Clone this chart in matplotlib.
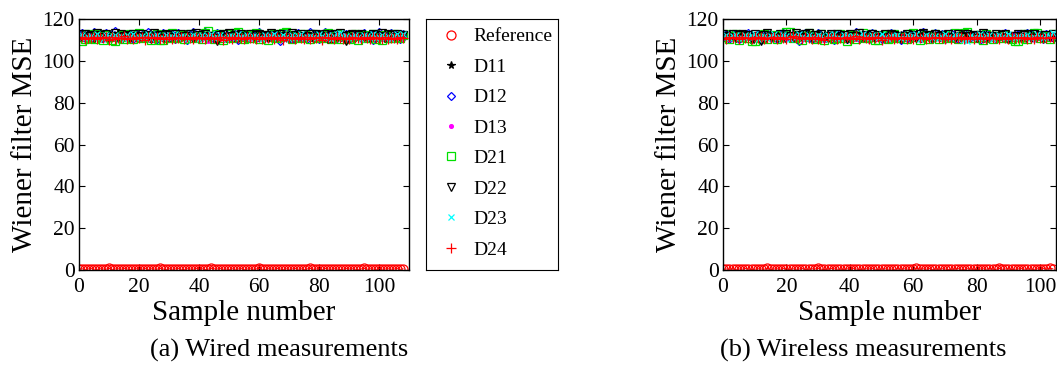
import matplotlib
matplotlib.use("Agg")
import matplotlib.pyplot as plt
import numpy as np

plt.rcParams['font.family'] = ['Liberation Serif', 'DejaVu Serif']

# ---- (a) wired measurements ----
wired_ref = [0.4, 0.6, 0.3, 0.5, 0.7, 0.4, 0.3, 0.6, 0.5, 0.4, 0.8, 0.3, 0.5, 0.6, 0.4, 0.7, 0.5, 0.3, 0.4, 0.6, 0.5, 0.4, 0.7, 0.3, 0.6, 0.5, 0.4, 0.8, 0.5, 0.3, 0.6, 0.4, 0.5, 0.7, 0.4, 0.3, 0.6, 0.5, 0.4, 0.7, 0.5, 0.6, 0.3, 0.4, 0.8, 0.6, 0.5, 0.7, 0.4, 0.5, 0.3, 0.6, 0.4, 0.5, 0.7, 0.3, 0.5, 0.6, 0.4, 0.5, 0.8, 0.4, 0.3, 0.6, 0.5, 0.4, 0.7, 0.5, 0.3, 0.6, 0.4, 0.5, 0.7, 0.4, 0.6, 0.3, 0.5, 0.8, 0.4, 0.5, 0.6, 0.3, 0.7, 0.5, 0.4, 0.6, 0.5, 0.3, 0.4, 0.7, 0.5, 0.6, 0.4, 0.3, 0.5, 0.8, 0.4, 0.6, 0.5, 0.3, 0.7, 0.4, 0.5, 0.6, 0.4, 0.5, 0.7, 0.3, 0.6]
wired_d11 = [111.8, 110.9, 112.4, 111.2, 110.5, 112.9, 111.6, 110.2, 112.1, 111.4, 113.0, 110.7, 111.9, 112.6, 110.4, 111.3, 112.2, 110.8, 111.7, 112.5, 110.6, 111.1, 112.8, 111.5, 110.3, 112.0, 111.8, 110.9, 112.3, 111.0, 110.6, 112.7, 111.4, 110.8, 112.1, 111.6, 110.2, 111.9, 112.4, 111.2, 110.7, 112.6, 111.3, 110.5, 112.0, 111.7, 109.8, 111.5, 112.2, 110.9, 111.4, 112.8, 110.6, 111.8, 112.3, 111.0, 110.4, 112.5, 111.6, 110.8, 112.1, 111.3, 110.7, 112.7, 111.2, 110.5, 111.9, 112.4, 110.9, 111.5, 112.0, 110.3, 111.7, 112.6, 111.1, 110.6, 112.2, 111.4, 110.8, 112.9, 111.6, 110.2, 111.8, 112.3, 109.9, 111.0, 112.5, 111.3, 110.7, 112.1, 111.9, 110.4, 111.5, 112.8, 111.2, 110.9, 112.0, 111.7, 110.5, 112.4, 111.1, 110.8, 112.6, 111.4, 110.6, 112.2, 111.8, 110.3, 111.5]
wired_d12 = [112.3, 113.5, 111.0, 112.8, 110.4, 113.9, 111.7, 112.5, 110.9, 113.2, 111.4, 112.0, 114.1, 110.8, 111.9, 113.0, 111.2, 112.6, 110.5, 113.4, 111.8, 112.2, 110.7, 113.7, 111.5, 112.9, 110.2, 112.4, 113.1, 111.0, 111.6, 112.7, 110.6, 113.3, 111.9, 112.1, 109.8, 112.8, 113.6, 111.3, 110.9, 112.5, 113.8, 111.1, 112.0, 110.4, 113.2, 111.7, 112.3, 110.8, 113.5, 111.4, 112.6, 110.1, 112.9, 113.0, 111.2, 111.8, 112.4, 110.7, 113.6, 111.5, 112.2, 110.9, 113.1, 111.0, 112.7, 109.7, 112.0, 113.4, 111.6, 110.5, 112.8, 113.2, 111.3, 112.1, 110.6, 113.7, 111.8, 112.5, 110.3, 112.9, 114.0, 111.1, 111.7, 112.3, 110.8, 113.5, 111.4, 112.6, 110.2, 113.0, 111.9, 112.2, 110.7, 113.3, 111.2, 112.8, 109.9, 112.4, 113.8, 111.5, 110.9, 112.0, 113.1, 111.6, 112.7, 110.5, 112.9]
wired_d13 = [111.2, 110.6, 111.8, 110.9, 111.5, 110.3, 112.0, 111.1, 110.7, 111.9, 110.4, 111.6, 111.0, 110.8, 112.2, 111.3, 110.5, 111.7, 110.9, 111.4, 110.2, 112.1, 111.0, 110.6, 111.8, 111.2, 110.4, 111.5, 110.8, 112.3, 111.1, 110.7, 111.6, 110.3, 111.9, 111.0, 110.5, 112.0, 111.3, 110.9, 111.7, 110.6, 111.2, 109.4, 111.8, 110.8, 111.4, 110.2, 112.1, 111.0, 110.7, 111.6, 111.3, 110.4, 111.9, 110.9, 111.2, 110.5, 111.7, 112.2, 110.8, 111.1, 110.3, 111.8, 111.4, 110.6, 112.0, 110.9, 111.5, 110.2, 111.3, 111.7, 110.7, 111.0, 112.1, 110.4, 111.6, 110.8, 111.2, 109.8, 111.9, 110.6, 111.4, 111.1, 110.3, 111.8, 110.9, 111.5, 112.3, 110.7, 111.0, 110.5, 111.7, 111.2, 110.8, 112.0, 110.4, 111.3, 111.6, 110.9, 111.1, 110.2, 111.8, 111.4, 110.6, 111.9, 110.7, 111.2, 110.5]
wired_d21 = [111.5, 109.6, 110.4, 112.8, 111.1, 110.2, 113.0, 111.7, 110.0, 112.3, 111.2, 109.8, 109.7, 111.9, 112.5, 110.6, 111.4, 112.9, 110.3, 111.8, 113.1, 110.8, 111.3, 112.0, 110.1, 111.6, 112.7, 109.9, 109.8, 112.2, 111.0, 113.2, 110.7, 111.5, 112.4, 110.2, 111.9, 112.8, 110.9, 111.3, 112.1, 110.5, 113.5, 114.2, 111.7, 110.4, 112.6, 111.1, 110.0, 112.9, 111.4, 110.8, 113.3, 114.0, 111.6, 110.3, 112.2, 111.0, 112.7, 113.4, 110.6, 111.8, 112.4, 110.1, 111.3, 112.9, 110.7, 111.5, 113.1, 114.0, 111.9, 110.4, 112.3, 111.2, 110.9, 112.6, 111.7, 110.2, 113.0, 111.4, 110.8, 112.5, 111.1, 113.2, 110.5, 111.6, 112.8, 110.3, 111.9, 112.1, 110.6, 111.3, 112.7, 110.0, 111.8, 112.4, 110.9, 111.2, 113.0, 110.4, 111.7, 109.9, 112.2, 111.0, 110.7, 112.9, 111.5, 110.8, 112.3]
wired_d22 = [112.6, 111.3, 112.9, 111.8, 112.2, 110.9, 113.1, 112.4, 111.6, 112.8, 110.7, 112.0, 113.3, 111.5, 112.7, 111.9, 112.3, 110.8, 113.0, 112.1, 111.4, 112.9, 111.7, 112.5, 110.6, 113.2, 111.9, 112.2, 111.1, 112.8, 112.4, 111.6, 113.0, 111.3, 112.7, 112.0, 111.8, 112.6, 110.9, 113.1, 112.3, 111.5, 112.9, 111.7, 112.1, 111.0, 109.3, 112.5, 112.8, 111.4, 113.2, 111.9, 112.3, 110.8, 112.7, 112.0, 111.6, 113.0, 111.2, 112.4, 112.9, 111.8, 112.2, 110.7, 113.1, 112.5, 111.3, 112.6, 111.9, 112.1, 110.9, 113.3, 112.4, 111.7, 112.8, 111.5, 112.0, 113.0, 111.1, 112.6, 112.3, 111.8, 112.9, 110.6, 112.2, 112.7, 111.4, 113.1, 111.9, 109.5, 112.5, 112.8, 111.2, 112.4, 113.0, 111.6, 112.1, 110.8, 112.9, 112.3, 111.7, 113.2, 111.0, 112.6, 112.2, 111.5, 112.8, 111.9, 112.4]
wired_d23 = [111.9, 112.4, 110.8, 111.6, 112.1, 111.0, 112.7, 111.3, 110.6, 112.3, 111.8, 110.9, 112.5, 111.2, 111.7, 110.5, 112.2, 111.4, 112.8, 110.7, 111.5, 112.0, 111.1, 112.6, 110.4, 111.9, 112.3, 111.0, 110.8, 112.4, 111.6, 111.2, 112.7, 110.9, 111.8, 112.1, 110.6, 111.4, 112.5, 111.7, 110.3, 112.2, 111.0, 111.9, 112.8, 110.8, 111.3, 112.4, 111.6, 110.5, 112.0, 111.8, 110.9, 112.6, 111.2, 111.5, 112.3, 110.7, 111.9, 112.1, 111.0, 110.6, 112.5, 111.4, 111.8, 112.7, 110.8, 111.3, 112.2, 111.6, 110.4, 112.4, 111.1, 111.9, 112.8, 110.9, 111.5, 112.0, 111.2, 110.7, 112.6, 111.7, 111.0, 112.3, 110.5, 111.8, 112.9, 113.2, 111.4, 112.1, 110.8, 111.6, 112.5, 111.3, 110.6, 112.2, 111.9, 111.0, 112.7, 110.9, 111.5, 112.4, 111.1, 111.8, 110.4, 112.0, 112.6, 111.3, 112.9]
wired_d24 = [110.9, 111.4, 110.2, 111.0, 110.7, 111.6, 110.4, 111.2, 110.8, 111.5, 110.1, 111.3, 110.6, 111.1, 110.9, 111.7, 110.3, 111.0, 110.5, 111.4, 110.8, 111.2, 110.0, 111.6, 110.7, 110.9, 111.3, 110.4, 111.1, 110.6, 111.5, 110.2, 111.0, 110.8, 111.4, 110.5, 111.2, 110.9, 110.3, 111.6, 110.7, 111.1, 110.4, 111.3, 110.8, 111.0, 110.6, 111.5, 110.1, 111.2, 110.9, 110.5, 111.4, 110.7, 111.0, 110.3, 111.6, 110.8, 111.1, 110.6, 111.3, 110.2, 111.0, 110.9, 111.5, 110.4, 111.2, 110.7, 110.1, 111.4, 110.8, 111.0, 110.5, 111.3, 110.9, 110.3, 111.6, 110.6, 111.1, 110.8, 111.2, 110.0, 111.5, 110.7, 111.0, 110.4, 111.3, 110.9, 110.6, 111.1, 110.2, 111.4, 110.8, 111.0, 110.5, 111.2, 110.7, 110.3, 111.5, 110.9, 111.1, 110.6, 111.3, 110.4, 111.0, 110.8, 110.5, 111.2, 110.7]

# ---- (b) wireless measurements ----
wireless_ref = [0.3, 0.5, 0.4, 0.6, 0.3, 0.5, 0.4, 0.7, 0.5, 0.3, 0.4, 0.6, 0.5, 0.4, 0.8, 0.3, 0.5, 0.6, 0.4, 0.7, 0.5, 0.3, 0.6, 0.4, 0.5, 0.7, 0.3, 0.4, 0.6, 0.5, 0.8, 0.4, 0.3, 0.5, 0.7, 0.6, 0.4, 0.5, 0.3, 0.6, 0.4, 0.7, 0.5, 0.3, 0.4, 0.6, 0.5, 0.7, 0.4, 0.3, 0.5, 0.6, 0.4, 0.5, 0.3, 0.7, 0.4, 0.6, 0.5, 0.3, 0.4, 0.8, 0.5, 0.6, 0.4, 0.7, 0.3, 0.5, 0.4, 0.6, 0.5, 0.3, 0.4, 0.5, 0.7, 0.4, 0.3, 0.6, 0.5, 0.4, 0.3, 0.5, 0.6, 0.4, 0.7, 0.5, 0.3, 0.8, 0.4, 0.5, 0.6, 0.3, 0.4, 0.5, 0.7, 0.4, 0.6, 0.5, 0.3, 0.6, 0.4, 0.7, 0.5, 0.8, 0.6]
wireless_d11 = [112.0, 111.3, 112.6, 110.8, 111.9, 112.4, 110.5, 111.7, 112.2, 109.9, 111.4, 112.8, 111.0, 110.6, 112.3, 111.8, 110.9, 112.5, 111.2, 110.4, 112.1, 111.6, 112.9, 110.7, 111.3, 112.0, 110.8, 112.6, 111.5, 110.2, 111.9, 112.4, 111.1, 110.6, 112.7, 111.4, 110.9, 112.2, 111.7, 110.3, 112.5, 111.0, 111.8, 112.3, 110.5, 111.6, 112.8, 111.2, 110.7, 112.1, 111.9, 110.4, 111.5, 112.6, 111.0, 110.8, 112.4, 111.3, 112.0, 110.6, 111.7, 112.9, 111.1, 110.3, 112.2, 111.8, 110.9, 112.5, 111.4, 110.7, 112.0, 111.6, 110.2, 112.3, 111.9, 113.1, 111.0, 110.5, 112.7, 111.5, 110.8, 112.1, 111.2, 110.6, 112.4, 111.8, 110.9, 112.8, 111.3, 110.4, 112.0, 111.7, 110.7, 112.5, 111.1, 110.3, 112.2, 111.6, 110.9, 112.6, 111.4, 110.5, 112.1, 111.0, 110.8]
wireless_d12 = [111.4, 112.7, 110.6, 113.0, 111.9, 110.3, 112.4, 111.2, 113.3, 110.8, 111.6, 112.9, 110.5, 112.1, 113.4, 111.0, 111.8, 110.2, 112.6, 113.1, 111.3, 110.7, 112.3, 111.7, 109.6, 112.8, 113.5, 111.1, 110.4, 112.0, 113.2, 111.5, 110.9, 112.5, 111.8, 110.1, 113.0, 112.2, 111.3, 110.6, 112.7, 111.9, 113.6, 110.8, 111.4, 112.4, 110.3, 113.1, 111.7, 112.0, 110.5, 112.9, 111.2, 113.3, 110.9, 111.6, 109.8, 112.6, 111.0, 113.0, 112.3, 111.5, 110.7, 114.0, 111.8, 112.1, 110.4, 113.2, 111.3, 112.7, 110.6, 111.9, 113.4, 111.1, 110.2, 112.5, 111.7, 113.0, 110.8, 112.2, 111.4, 110.1, 112.8, 113.5, 111.0, 111.6, 110.5, 112.4, 111.9, 113.1, 110.3, 112.0, 111.5, 112.9, 110.7, 111.2, 113.3, 112.6, 110.9, 111.8, 112.3, 110.4, 113.0, 111.3, 112.1]
wireless_d13 = [110.8, 111.5, 110.3, 111.9, 111.1, 110.6, 112.0, 110.9, 111.4, 110.2, 111.7, 111.0, 110.5, 111.8, 111.3, 110.7, 112.1, 110.4, 111.2, 111.6, 110.8, 111.9, 110.3, 111.5, 111.0, 110.6, 111.7, 111.2, 110.9, 112.2, 110.5, 111.4, 110.1, 111.8, 111.0, 110.7, 111.6, 111.3, 110.4, 111.9, 110.8, 111.1, 110.6, 112.0, 111.4, 110.2, 111.7, 110.9, 111.5, 110.3, 111.2, 111.8, 110.7, 111.0, 110.5, 111.6, 112.1, 110.8, 111.3, 110.4, 111.9, 111.1, 110.6, 113.4, 111.5, 110.9, 111.2, 110.3, 111.7, 111.0, 110.8, 112.0, 110.5, 111.4, 111.1, 110.7, 111.8, 110.2, 111.3, 111.6, 110.9, 111.0, 110.4, 111.9, 111.2, 110.6, 111.5, 110.8, 112.1, 110.3, 111.4, 111.7, 110.5, 111.1, 110.9, 111.8, 110.7, 111.3, 110.4, 111.6, 111.0, 110.8, 111.5, 110.6, 111.2]
wireless_d21 = [111.2, 112.6, 110.4, 111.8, 112.9, 110.1, 111.5, 112.3, 110.7, 109.3, 109.4, 112.0, 111.1, 112.8, 110.5, 111.9, 112.4, 110.2, 111.6, 113.0, 113.6, 114.0, 110.8, 111.3, 112.5, 110.0, 111.7, 113.1, 112.2, 110.6, 111.4, 112.7, 109.9, 111.8, 112.1, 110.4, 111.0, 112.9, 110.7, 109.6, 111.5, 112.3, 110.2, 111.9, 113.2, 110.9, 111.3, 112.6, 110.1, 109.8, 111.7, 112.4, 110.5, 111.1, 112.8, 110.8, 111.6, 112.0, 110.3, 113.0, 113.3, 111.4, 110.0, 111.9, 112.5, 110.6, 111.2, 112.9, 110.4, 111.7, 112.2, 110.9, 111.5, 113.1, 110.2, 111.8, 113.5, 113.7, 111.0, 110.7, 112.3, 111.3, 110.1, 112.7, 111.6, 110.5, 112.0, 111.9, 110.8, 112.4, 111.1, 110.3, 109.6, 109.5, 111.4, 112.8, 110.6, 111.7, 113.3, 113.4, 110.9, 112.1, 111.2, 110.4, 112.6]
wireless_d22 = [112.8, 112.1, 111.4, 112.9, 110.8, 112.5, 113.0, 111.7, 112.3, 110.6, 112.7, 111.9, 109.7, 112.4, 113.2, 111.5, 112.0, 110.9, 112.8, 111.3, 112.6, 111.8, 110.7, 113.1, 112.2, 111.6, 112.9, 113.3, 111.0, 112.4, 111.8, 112.7, 110.8, 112.1, 113.0, 111.4, 112.6, 111.9, 112.3, 110.5, 112.8, 111.7, 112.0, 113.2, 111.2, 112.5, 111.9, 112.9, 110.9, 112.2, 111.6, 112.7, 111.3, 113.0, 112.4, 111.8, 110.6, 112.1, 112.8, 111.5, 112.3, 111.0, 112.9, 113.1, 111.7, 112.2, 110.8, 112.6, 111.9, 112.4, 111.2, 112.8, 111.6, 110.7, 113.0, 112.0, 111.4, 112.7, 111.8, 112.3, 110.9, 112.5, 113.2, 111.1, 112.1, 111.7, 112.9, 111.3, 112.4, 112.8, 110.6, 112.0, 111.9, 112.6, 111.5, 112.2, 113.0, 111.0, 112.7, 111.8, 112.3, 110.8, 112.5, 111.4, 112.9]
wireless_d23 = [111.6, 112.2, 110.9, 111.8, 112.5, 111.1, 110.7, 112.3, 111.4, 111.9, 112.7, 110.6, 111.5, 112.1, 111.0, 111.8, 112.6, 110.8, 111.3, 112.4, 111.7, 110.5, 112.0, 111.2, 112.8, 111.6, 110.9, 112.3, 111.4, 111.0, 112.5, 111.8, 110.6, 112.2, 111.3, 112.7, 111.1, 110.8, 112.4, 111.9, 111.5, 112.1, 110.7, 111.7, 112.6, 111.2, 110.9, 112.3, 111.6, 111.0, 112.8, 111.4, 110.5, 112.0, 111.8, 112.5, 111.1, 110.8, 112.2, 111.5, 111.9, 112.7, 110.6, 111.3, 112.4, 111.7, 111.0, 112.1, 110.9, 111.6, 112.9, 111.2, 110.7, 112.3, 111.8, 111.4, 109.8, 109.5, 112.0, 111.5, 110.8, 112.6, 111.1, 111.9, 112.2, 110.6, 111.7, 112.5, 111.3, 111.0, 112.8, 111.6, 110.9, 112.1, 111.4, 111.8, 112.4, 110.7, 111.2, 112.7, 111.5, 111.0, 112.3, 111.9, 113.3]
wireless_d24 = [111.0, 110.6, 111.4, 110.9, 111.2, 110.4, 111.6, 110.8, 111.1, 110.5, 111.3, 110.7, 111.5, 110.2, 111.0, 110.9, 111.4, 110.6, 111.2, 110.8, 110.3, 111.5, 111.7, 110.7, 111.1, 110.4, 111.3, 110.9, 110.6, 111.6, 110.2, 111.0, 109.9, 111.4, 110.8, 111.2, 110.5, 111.1, 110.7, 111.5, 110.3, 111.0, 111.8, 110.6, 111.3, 110.9, 110.4, 111.2, 110.8, 111.6, 110.1, 111.0, 110.7, 111.4, 110.5, 111.1, 110.9, 111.3, 110.6, 111.0, 110.3, 111.5, 110.8, 111.2, 110.4, 111.0, 110.7, 111.4, 110.9, 111.1, 110.5, 111.3, 110.2, 111.0, 110.8, 111.6, 110.6, 110.9, 111.2, 110.4, 111.5, 110.7, 111.0, 110.3, 111.3, 110.9, 111.1, 110.6, 111.4, 110.8, 110.5, 111.2, 110.7, 111.0, 110.9, 111.3, 110.4, 111.1, 110.6, 111.5, 110.8, 111.0, 110.7, 111.2, 110.9]

labels = ["Reference", "D11", "D12", "D13", "D21", "D22", "D23", "D24"]
y_ticks = [0, 20, 40, 60, 80, 100, 120]
x_ticks = [0, 20, 40, 60, 80, 100]

# marker, colour, size, filled
styles = [
    ("o", "red", 6.5, False),
    ("*", "black", 5.5, True),
    ("D", "blue", 4.5, False),
    (".", "magenta", 5.5, True),
    ("s", "#00e000", 5.5, False),
    ("v", "black", 5.5, False),
    ("x", "cyan", 4.5, True),
    ("+", "red", 7, True),
]

wired = [wired_ref, wired_d11, wired_d12, wired_d13, wired_d21, wired_d22, wired_d23, wired_d24]
wireless = [wireless_ref, wireless_d11, wireless_d12, wireless_d13, wireless_d21,
            wireless_d22, wireless_d23, wireless_d24]

fig = plt.figure(figsize=(10.57, 3.65), dpi=100)
W, H = 1057, 365


def px_axes(l, t, r, b):
    return fig.add_axes([l / W, 1 - b / H, (r - l) / W, (b - t) / H])


ax_a = px_axes(79, 19, 409, 270)
ax_b = px_axes(723, 19, 1056, 270)
ax_leg = px_axes(426, 19, 558, 270)


def draw(ax, series, xmax):
    handles = []
    for vals, (m, c, ms, filled) in zip(series, styles):
        x = np.arange(len(vals))
        kw = dict(marker=m, linestyle="none", markersize=ms, markeredgewidth=0.9)
        if filled:
            kw.update(color=c)
        else:
            kw.update(markerfacecolor="none", markeredgecolor=c)
        ax.plot(x, vals, color=c, linewidth=0.7)
        h, = ax.plot(x, vals, **kw)
        handles.append(h)
    ax.set_xlim(0, xmax)
    ax.set_ylim(0, 120)
    ax.set_xticks(x_ticks)
    ax.set_yticks(y_ticks)
    ax.tick_params(direction="in", top=True, right=True, labelsize=15.5, length=4,
                   width=0.8, pad=3)
    ax.tick_params(axis="x", pad=6)
    for s in ax.spines.values():
        s.set_linewidth(1.0)
    ax.set_xlabel("Sample number", fontsize=21, labelpad=2)
    ax.set_ylabel("Wiener filter MSE", fontsize=21, labelpad=3)
    return handles


handles = draw(ax_a, wired, 110)
draw(ax_b, wireless, 105)

ax_leg.set_xticks([])
ax_leg.set_yticks([])
ax_leg.legend(handles, labels, loc="center left", bbox_to_anchor=(0.0, 0.505),
              frameon=False, fontsize=14, labelspacing=0.66, handlelength=1.0,
              handletextpad=0.65, borderaxespad=0.4)

fig.text(279 / W, 1 - 350 / H, "(a) Wired measurements", fontsize=19,
         ha="center", va="center")
fig.text(863 / W, 1 - 350 / H, "(b) Wireless measurements", fontsize=19,
         ha="center", va="center")

fig.savefig("out.png", dpi=100)
